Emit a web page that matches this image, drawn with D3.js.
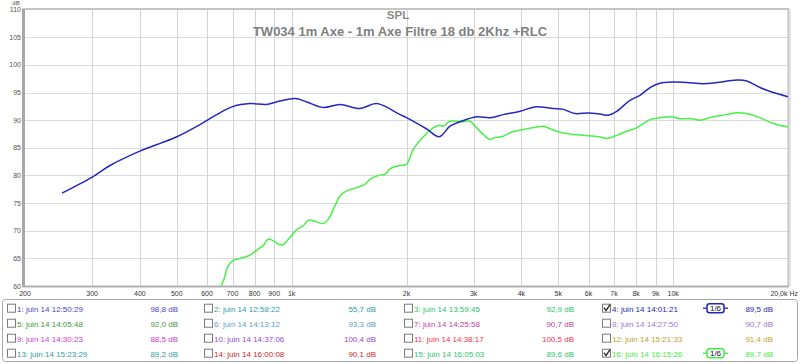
<!DOCTYPE html>
<html>
<head>
<meta charset="utf-8">
<script src="https://cdn.jsdelivr.net/npm/d3@7"></script>
<style>
    body { margin: 0; background: #fff; }
    svg { display: block; font-family: 'Liberation Sans', Arial, sans-serif; }
</style>
</head>
<body>
<div id="chart"></div>
<script>
// Courbe 4 (bleue) : fréquences (Hz) et niveaux (dB)
const freqsBleu = [250, 300, 334, 400, 452, 500, 575, 636, 703, 778, 860, 932, 1021, 1095, 1210, 1339, 1510, 1671, 1924, 2000, 2259, 2438, 2600, 2762, 3056, 3311, 3586, 3967, 4343, 4851, 5152, 5530, 6000, 6432, 6762, 7112, 7705, 8185, 8698, 9142, 10003, 10851, 11995, 13012, 14674, 15586, 16889, 18299, 20000];
const splBleu = [76.8, 79.7, 81.8, 84.4, 85.8, 87.0, 89.2, 91.0, 92.5, 93.0, 92.85, 93.45, 93.9, 93.3, 92.3, 92.85, 92.1, 93.0, 91.0, 90.45, 88.4, 87.0, 88.9, 89.7, 90.6, 90.45, 91.0, 91.6, 92.4, 92.1, 91.95, 91.2, 91.3, 91.1, 90.9, 91.6, 93.6, 94.5, 95.9, 96.6, 96.9, 96.8, 96.6, 96.8, 97.25, 97.1, 95.9, 95.0, 94.25];

// Courbe 16 (verte)
const freqsVert = [640, 665, 682, 703, 732, 778, 818, 843, 868, 894, 942, 990, 1031, 1073, 1107, 1151, 1210, 1248, 1299, 1339, 1394, 1481, 1557, 1604, 1707, 1757, 1811, 1924, 2000, 2083, 2216, 2350, 2438, 2499, 2600, 2818, 2934, 3056, 3179, 3311, 3396, 3586, 3774, 4048, 4386, 4569, 4755, 4952, 5260, 5700, 6432, 6696, 7112, 7553, 8024, 8698, 9236, 9910, 10423, 11073, 11758, 12742, 13815, 14674, 15586, 16889, 18299, 20000];
const splVert = [58.5, 61.3, 63.7, 64.6, 65.0, 65.6, 66.7, 67.3, 68.5, 68.2, 67.4, 68.8, 70.2, 70.9, 71.9, 71.7, 71.3, 72.1, 74.5, 76.3, 77.2, 77.8, 78.4, 79.3, 80.1, 80.2, 81.2, 81.8, 82.0, 84.7, 87.0, 88.6, 89.1, 88.9, 89.8, 89.7, 89.8, 88.6, 87.4, 86.5, 86.8, 87.1, 87.85, 88.3, 88.75, 88.9, 88.45, 88.0, 87.6, 87.3, 86.95, 86.7, 87.25, 88.0, 88.6, 90.1, 90.45, 90.6, 90.25, 90.3, 90.0, 90.6, 91.0, 91.35, 91.2, 90.45, 89.4, 88.75];

// Axes
const yTicks = [60, 65, 70, 75, 80, 85, 90, 95, 100, 105, 110];
const xTicks = [300, 400, 500, 600, 700, 800, 900, 1000, 2000, 3000, 4000, 5000, 6000, 7000, 8000, 9000, 10000];
const xTickLabels = ['300', '400', '500', '600', '700', '800', '900', '1k', '2k', '3k', '4k', '5k', '6k', '7k', '8k', '9k', '10k'];

// Légende : 16 mesures
const legendNames = ['1: juin 14 12:50:29', '2: juin 14 12:58:22', '3: juin 14 13:59:45', '4: juin 14 14:01:21',
    '5: juin 14 14:05:48', '6: juin 14 14:13:12', '7: juin 14 14:25:58', '8: juin 14 14:27:50',
    '9: juin 14 14:30:23', '10: juin 14 14:37:06', '11: juin 14 14:38:17', '12: juin 14 15:21:33',
    '13: juin 14 15:23:29', '14: juin 14 16:00:08', '15: juin 14 16:05:03', '16: juin 14 16:15:26'];
const legendValues = ['98,8 dB', '55,7 dB', '92,9 dB', '89,5 dB', '92,0 dB', '93,3 dB', '90,7 dB', '90,7 dB',
    '88,5 dB', '100,4 dB', '100,5 dB', '91,4 dB', '89,2 dB', '90,1 dB', '89,6 dB', '89,7 dB'];
const legendColors = ['#4646cc', '#2f9e9e', '#2ec46a', '#2424b4', '#3a9a3a', '#5aa2cc', '#c2409a', '#a274d0',
    '#cc3ccc', '#9a48cc', '#f5334a', '#c4a032', '#2f9e9e', '#cc2626', '#2ec46a', '#40ee40'];
const legendChecked = [false, false, false, true, false, false, false, false,
    false, false, false, false, false, false, false, true];

const width = 800, height = 364;
const plotLeft = 25, plotRight = 788, plotTop = 9.6, plotBottom = 286;

const svg = d3.select('#chart').append('svg')
    .attr('width', width)
    .attr('height', height);

const xScale = d3.scaleLog().domain([200, 20000]).range([plotLeft, plotRight]);
const yScale = d3.scaleLinear().domain([60, 110]).range([plotBottom, plotTop]);

// Grille
svg.append('g')
    .selectAll('line')
    .data(yTicks.slice(1, -1))
    .enter().append('line')
    .attr('x1', plotLeft).attr('x2', plotRight)
    .attr('y1', d => Math.round(yScale(d)) + 0.5)
    .attr('y2', d => Math.round(yScale(d)) + 0.5)
    .style('stroke', '#dadada');

svg.append('g')
    .selectAll('line')
    .data(xTicks)
    .enter().append('line')
    .attr('x1', d => Math.round(xScale(d)) + 0.5)
    .attr('x2', d => Math.round(xScale(d)) + 0.5)
    .attr('y1', plotTop).attr('y2', plotBottom)
    .style('stroke', '#d4d4d4');

// Cadre
svg.append('line').attr('x1', plotLeft).attr('x2', plotRight + 1).attr('y1', plotTop - 0.5).attr('y2', plotTop - 0.5)
    .style('stroke', '#c4c4c4').style('stroke-width', 2);
svg.append('line').attr('x1', plotRight + 0.5).attr('x2', plotRight + 0.5).attr('y1', plotTop - 1).attr('y2', plotBottom)
    .style('stroke', '#c4c4c4').style('stroke-width', 2);
svg.append('line').attr('x1', plotRight + 2.5).attr('x2', plotRight + 2.5).attr('y1', plotTop).attr('y2', plotBottom + 1)
    .style('stroke', '#e4e4e4');
svg.append('line').attr('x1', plotLeft - 1.5).attr('x2', plotLeft - 1.5).attr('y1', plotTop - 1).attr('y2', plotBottom + 1)
    .style('stroke', '#a8a8a8').style('stroke-width', 3);
svg.append('line').attr('x1', plotLeft - 3).attr('x2', plotRight + 1).attr('y1', plotBottom + 0.5).attr('y2', plotBottom + 0.5)
    .style('stroke', '#b0b0b0').style('stroke-width', 2);

// Labels axe Y
svg.append('g')
    .selectAll('text')
    .data(yTicks)
    .enter().append('text')
    .attr('x', 21)
    .attr('y', d => yScale(d) + 2.5)
    .style('text-anchor', 'end')
    .style('fill', '#555')
    .style('font-size', '7px')
    .text(d => d);

svg.append('text')
    .attr('x', 16).attr('y', 5)
    .style('text-anchor', 'middle')
    .style('fill', '#555')
    .style('font-size', '6px')
    .text('dB');

// Labels axe X
svg.append('g')
    .selectAll('text')
    .data(xTicks)
    .enter().append('text')
    .attr('x', d => xScale(d))
    .attr('y', 296)
    .style('text-anchor', 'middle')
    .style('fill', '#333')
    .style('font-size', '7px')
    .text((d, i) => xTickLabels[i]);

svg.append('text').attr('x', xScale(200)).attr('y', 296)
    .style('text-anchor', 'middle').style('fill', '#333').style('font-size', '7px').text('200');
svg.append('text').attr('x', 798).attr('y', 296)
    .style('text-anchor', 'end').style('fill', '#333').style('font-size', '7px').text('20,0k Hz');

// Titre
svg.append('text')
    .attr('x', 398).attr('y', 18.5)
    .style('text-anchor', 'middle')
    .style('fill', '#8a8a8a')
    .style('font-size', '11.5px')
    .style('font-weight', 'bold')
    .text('SPL');

svg.append('text')
    .attr('x', 400).attr('y', 36)
    .style('text-anchor', 'middle')
    .style('fill', '#808080')
    .style('font-size', '13px')
    .style('font-weight', 'bold')
    .text('TW034 1m Axe - 1m Axe Filtre 18 db 2Khz +RLC');

// Courbes (découpées au cadre)
svg.append('clipPath').attr('id', 'clip')
    .append('rect').attr('x', plotLeft).attr('y', plotTop).attr('width', plotRight - plotLeft).attr('height', plotBottom - plotTop);

const line = d3.line()
    .x(d => xScale(d[0]))
    .y(d => yScale(d[1]))
    .curve(d3.curveCatmullRom.alpha(0.5));

svg.append('path')
    .datum(freqsVert.map((f, i) => [f, splVert[i]]))
    .attr('clip-path', 'url(#clip)')
    .attr('d', line)
    .style('fill', 'none')
    .style('stroke', '#48f048')
    .style('stroke-width', 1.5);

svg.append('path')
    .datum(freqsBleu.map((f, i) => [f, splBleu[i]]))
    .attr('clip-path', 'url(#clip)')
    .attr('d', line)
    .style('fill', 'none')
    .style('stroke', '#2626c0')
    .style('stroke-width', 1.5);

// Légende
svg.append('rect')
    .attr('x', 2.5).attr('y', 299.5)
    .attr('width', 795).attr('height', 62)
    .attr('rx', 3)
    .style('fill', '#fff')
    .style('stroke', '#a8a8a8');

const colX = [7, 204, 404, 602];
const valX = [178, 376, 574, 773];

const items = svg.append('g')
    .selectAll('g')
    .data(legendNames)
    .enter().append('g')
    .attr('transform', (d, i) => `translate(${colX[i % 4]},${308.7 + Math.floor(i / 4) * 15})`);

items.append('rect')
    .attr('x', 0.5).attr('y', -4.5)
    .attr('width', 8).attr('height', 8)
    .style('fill', '#fff')
    .style('stroke', '#7a7a7a');

items.filter((d, i) => legendChecked[i])
    .append('path')
    .attr('d', 'M2,-1 L4,2 L8,-4')
    .style('fill', 'none')
    .style('stroke', '#222')
    .style('stroke-width', 1.3);

items.append('text')
    .attr('x', 10).attr('y', 3)
    .style('fill', (d, i) => legendColors[i])
    .style('font-size', '8px')
    .text(d => d);

items.append('text')
    .attr('x', (d, i) => valX[i % 4] - colX[i % 4]).attr('y', 3)
    .style('text-anchor', 'end')
    .style('fill', (d, i) => legendColors[i])
    .style('font-size', '8px')
    .text((d, i) => legendValues[i]);

// Badges de lissage 1/6
const badges = items.filter((d, i) => legendChecked[i])
    .append('g')
    .attr('transform', `translate(${707 - 602},0)`);

badges.append('line')
    .attr('x1', -4).attr('x2', 21).attr('y1', -0.5).attr('y2', -0.5)
    .style('stroke', (d, i) => i === 0 ? legendColors[3] : legendColors[15])
    .style('stroke-width', 1.3);

badges.append('rect')
    .attr('x', 0).attr('y', -5)
    .attr('width', 17).attr('height', 9)
    .attr('rx', 2.5)
    .style('fill', '#fff')
    .style('stroke', (d, i) => i === 0 ? legendColors[3] : legendColors[15])
    .style('stroke-width', 1.5);

badges.append('text')
    .attr('x', 8.5).attr('y', 2.5)
    .style('text-anchor', 'middle')
    .style('fill', '#111')
    .style('font-size', '8px')
    .text('1/6');
</script>
</body>
</html>
